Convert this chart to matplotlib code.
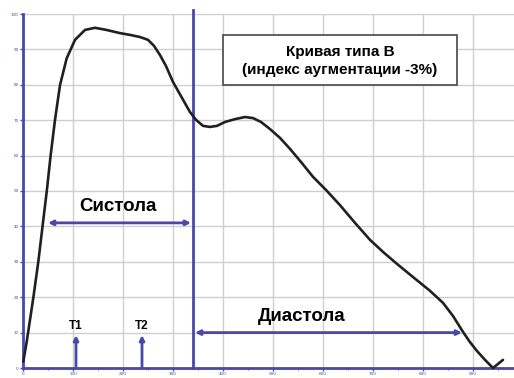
import matplotlib
matplotlib.use("Agg")
import matplotlib.pyplot as plt
from matplotlib.patches import Rectangle

# --- data ---
time_ms = [0.6, 7.4, 20.6, 30.6, 39.4, 47.4, 55.4, 64, 74, 87.4, 104, 124, 144, 167,
           194, 214, 234, 250, 262, 274, 286, 300, 318, 334, 346, 360, 374, 388,
           404, 424, 444, 460, 476, 494, 514, 534, 556, 580, 606, 634, 664, 694,
           720, 748, 780, 814, 840, 860, 880, 894, 908, 924, 940, 960]
pressure = [1.8, 7.4, 19.8, 30.0, 40.4, 49.8, 60.2, 70.1, 79.9, 87.5, 92.7, 95.5,
            96.1, 95.5, 94.6, 94.1, 93.5, 92.7, 91.0, 88.4, 85.3, 80.8, 76.3, 72.3,
            70.1, 68.4, 68.1, 68.4, 69.5, 70.3, 70.9, 70.6, 69.5, 67.5, 65.0, 61.9,
            58.2, 54.0, 50.3, 46.0, 41.0, 36.2, 32.8, 29.4, 25.7, 21.8, 18.4, 14.7,
            10.2, 7.3, 4.8, 2.3, 0.0, 2.3]
x_ticks = [0, 100, 200, 300, 400, 500, 600, 700, 800, 900]
y_ticks = [0, 10, 20, 30, 40, 50, 60, 70, 80, 90, 100]
systole_end = 340
systole_y = 41
systole_start = 50
diastole_end = 878
diastole_y = 10
t1_x, t2_x = 106, 238
t_height = 9.3
box_lines = ["Кривая типа В", "(индекс аугментации -3%)"]

BLUE = "#4a48a8"
GRID = "#cfcfcf"

fig = plt.figure(figsize=(5.14, 3.78), dpi=100)
ax = fig.add_axes([23 / 514, 10 / 378, 1 - 23 / 514, 354 / 378])
ax.set_xlim(0, 982)
ax.set_ylim(0, 100)

ax.set_xticks(x_ticks)
ax.set_xticks([v + 50 for v in x_ticks], minor=True)
ax.set_yticks(y_ticks)
ax.grid(True, color=GRID, lw=1.0)
ax.set_axisbelow(True)
for s in ["top", "right"]:
    ax.spines[s].set_visible(False)
for s in ["left", "bottom"]:
    ax.spines[s].set_color(BLUE)
    ax.spines[s].set_linewidth(2)
ax.tick_params(axis="both", colors=BLUE, labelsize=3, length=2, width=1, pad=1)
ax.tick_params(axis="x", which="minor", length=1.5, color=BLUE)
ax.set_xticklabels([str(v) for v in x_ticks])
ax.set_yticklabels([str(v) for v in y_ticks])

fam = ["Liberation Sans", "DejaVu Sans"]

# curve
ax.plot(time_ms, pressure, color="#202020", lw=1.9, solid_capstyle="round",
        solid_joinstyle="round", zorder=5, clip_on=False)

# systole / diastole separator
ax.axvline(systole_end, color=BLUE, lw=2, zorder=4, ymax=1.01, clip_on=False)

arrow_kw = dict(arrowstyle="<|-|>", color=BLUE, lw=2, mutation_scale=7,
                shrinkA=0, shrinkB=0)
ax.annotate("", xy=(systole_end - 4, systole_y), xytext=(systole_start, systole_y),
            arrowprops=arrow_kw, zorder=6)
ax.annotate("", xy=(diastole_end, diastole_y), xytext=(systole_end + 4, diastole_y),
            arrowprops=arrow_kw, zorder=6)
ax.text(190, 45.6, "Систола", ha="center", va="center",
        fontsize=13.5, fontweight="bold", family=fam, zorder=7)
ax.text(558, 14.6, "Диастола", ha="center", va="center",
        fontsize=13.5, fontweight="bold", family=fam, zorder=7)

# T1 / T2 markers
up_kw = dict(arrowstyle="-|>", color=BLUE, lw=2, mutation_scale=7,
             shrinkA=0, shrinkB=0)
for tx, lab in [(t1_x, "T1"), (t2_x, "T2")]:
    ax.annotate("", xy=(tx, t_height), xytext=(tx, 0), arrowprops=up_kw, zorder=6)
    ax.text(tx, 11.8, lab, ha="center", va="center", fontsize=8.5,
            fontweight="bold", family=fam, zorder=7)

# annotation box
ax.add_patch(Rectangle((400, 79.9), 468, 14.2, fc="white", ec="#555555",
                       lw=1.3, zorder=8))
ax.text(634, 89.3, box_lines[0], ha="center", va="center", fontsize=11,
        fontweight="bold", family=fam, zorder=9)
ax.text(634, 84.2, box_lines[1], ha="center", va="center", fontsize=11,
        fontweight="bold", family=fam, zorder=9)

fig.savefig("out.png", dpi=100)
